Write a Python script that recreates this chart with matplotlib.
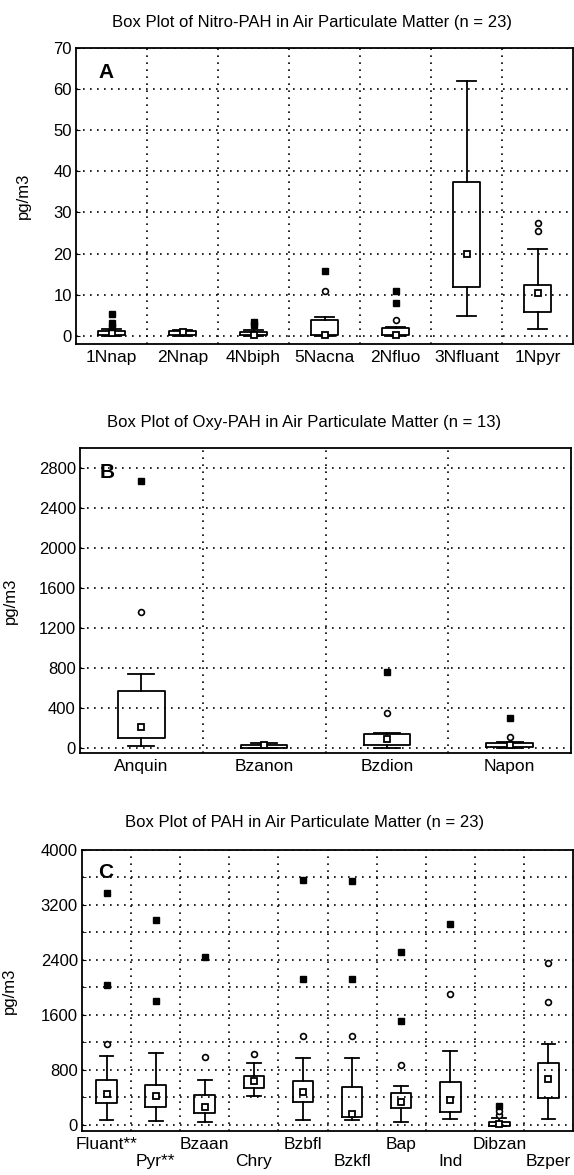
import numpy as np
import matplotlib.pyplot as plt
from matplotlib.ticker import MultipleLocator, FixedLocator

plt.rcParams['font.family'] = ['Liberation Sans', 'DejaVu Sans']

W, H = 574, 1175

# ---- panel A: nitro-PAH (pg/m3)
a_labels = ["1Nnap", "2Nnap", "4Nbiph", "5Nacna", "2Nfluo", "3Nfluant", "1Npyr"]
a_med = [0.7, 0.8, 0.2, 0.15, 0.3, 19.9, 10.5]
a_q1 = [0.3, 0.3, 0.2, 0.1, 0.2, 11.8, 5.8]
a_q3 = [1.1, 1.2, 1.0, 3.8, 1.8, 37.4, 12.3]
a_lo = [0.0, 0.0, 0.0, 0.0, 0.0, 4.8, 1.7]
a_hi = [1.6, 1.3, 1.3, 4.6, 2.2, 61.9, 21.1]
a_out = [[], [], [], [11.0], [3.9], [], [25.5, 27.4]]
a_ext = [[5.4, 3.2, 2.2], [], [3.4, 2.6], [15.8], [10.8, 8.0], [], []]

# ---- panel B: oxy-PAH (pg/m3)
b_labels = ["Anquin", "Bzanon", "Bzdion", "Napon"]
b_med = [213, 35, 90, 30]
b_q1 = [97, 5, 30, 15]
b_q3 = [573, 30, 140, 50]
b_lo = [25, 0, 0, 0]
b_hi = [740, 55, 153, 60]
b_out = [[1363], [], [347], [115]]
b_ext = [[2670], [], [763], [303]]

# ---- panel C: PAH (pg/m3)
c_labels = ["Fluant**", "Pyr**", "Bzaan", "Chry", "Bzbfl", "Bzkfl", "Bap", "Ind", "Dibzan", "Bzper"]
c_med = [443, 419, 265, 636, 472, 154, 337, 361, 15, 660]
c_q1 = [313, 265, 169, 539, 337, 111, 251, 193, -10, 395]
c_q3 = [650, 578, 434, 708, 641, 554, 467, 626, 45, 900]
c_lo = [70, 60, 40, 424, 72, 72, 40, 82, -20, 91]
c_hi = [1007, 1050, 650, 906, 978, 978, 568, 1069, 100, 1180]
c_out = [[1180], [], [987], [1026], [1291], [1291], [867], [1903], [150, 200], [1782, 2360]]
c_ext = [[2033, 3367], [1797, 2977], [2442], [], [2120, 3560], [2120, 3546], [1517, 2519], [2929], [270], []]


def frac(x0, y0, x1, y1):
    return [x0 / W, 1 - y1 / H, (x1 - x0) / W, (y1 - y0) / H]


def draw_panel(ax, labels, med, q1, q3, lo, hi, outl, extr, bw, cw):
    n = len(labels)
    pos = np.arange(n)
    stats = []
    for i in range(n):
        stats.append(dict(med=med[i], q1=q1[i], q3=q3[i], whislo=lo[i], whishi=hi[i], fliers=[]))
    lk = dict(color="black", linewidth=1.3)
    ax.bxp(stats, positions=pos, widths=bw, capwidths=cw, showfliers=False,
           boxprops=lk, whiskerprops=lk, capprops=lk,
           medianprops=dict(linewidth=0), zorder=3)
    ax.plot(pos, med, "s", ms=4, mfc="white", mec="black", mew=1.3, ls="none", zorder=4)
    for i in range(n):
        if outl[i]:
            ax.plot([pos[i]] * len(outl[i]), outl[i], "o", ms=4.2, mfc="white",
                    mec="black", mew=1.2, ls="none", zorder=4)
        if extr[i]:
            ax.plot([pos[i]] * len(extr[i]), extr[i], "s", ms=4.3, color="black",
                    ls="none", zorder=4)
    ax.set_xlim(-0.5, n - 0.5)
    ax.set_xticks(pos)
    ax.xaxis.set_minor_locator(FixedLocator(np.arange(n - 1) + 0.5))
    ax.tick_params(axis="x", which="both", length=0, labelsize=12.5, pad=4)
    ax.tick_params(axis="y", which="both", direction="in", length=3, labelsize=12, pad=3)
    ax.grid(True, axis="x", which="minor", color="black", linestyle=(0, (1, 3.2)), linewidth=1.2)
    ax.grid(True, axis="y", which="both", color="black", linestyle=(0, (1, 3.2)), linewidth=1.2)
    for s in ax.spines.values():
        s.set_linewidth(1.3)
    ax.set_ylabel("pg/m3", fontsize=12)


fig = plt.figure(figsize=(W / 100, H / 100), dpi=100)

# A
axA = fig.add_axes(frac(76, 48, 573, 344))
draw_panel(axA, a_labels, a_med, a_q1, a_q3, a_lo, a_hi, a_out, a_ext, 0.39, 0.26)
axA.set_xticklabels(a_labels)
axA.set_ylim(-2, 70)
axA.yaxis.set_major_locator(MultipleLocator(10))
axA.yaxis.set_label_coords(-0.09, 0.5)
fig.text(312 / W, 1 - 22 / H, "Box Plot of Nitro-PAH in Air Particulate Matter (n = 23)",
         ha="center", va="center", fontsize=12)
fig.text(106 / W, 1 - 73 / H, "A", ha="center", va="center", fontsize=15, fontweight="bold")

# B
axB = fig.add_axes(frac(80, 448, 571, 753))
draw_panel(axB, b_labels, b_med, b_q1, b_q3, b_lo, b_hi, b_out, b_ext, 0.38, 0.21)
axB.set_xticklabels(b_labels)
axB.set_ylim(-50, 3000)
axB.yaxis.set_major_locator(MultipleLocator(400))
axB.yaxis.set_label_coords(-0.126, 0.5)
fig.text(304 / W, 1 - 423 / H, "Box Plot of Oxy-PAH in Air Particulate Matter (n = 13)",
         ha="center", va="center", fontsize=12)
fig.text(107 / W, 1 - 472 / H, "B", ha="center", va="center", fontsize=15, fontweight="bold")

# C
axC = fig.add_axes(frac(82, 850, 573, 1131))
draw_panel(axC, c_labels, c_med, c_q1, c_q3, c_lo, c_hi, c_out, c_ext, 0.42, 0.28)
axC.set_xticklabels([lab if i % 2 == 0 else "\n" + lab for i, lab in enumerate(c_labels)])
axC.set_ylim(-90, 4000)
axC.yaxis.set_major_locator(MultipleLocator(800))
axC.yaxis.set_minor_locator(MultipleLocator(400))
axC.yaxis.set_label_coords(-0.132, 0.5)
fig.text(305 / W, 1 - 823 / H, "Box Plot of PAH in Air Particulate Matter (n = 23)",
         ha="center", va="center", fontsize=12)
fig.text(106 / W, 1 - 872 / H, "C", ha="center", va="center", fontsize=15, fontweight="bold")

fig.savefig("out.png", dpi=100)
